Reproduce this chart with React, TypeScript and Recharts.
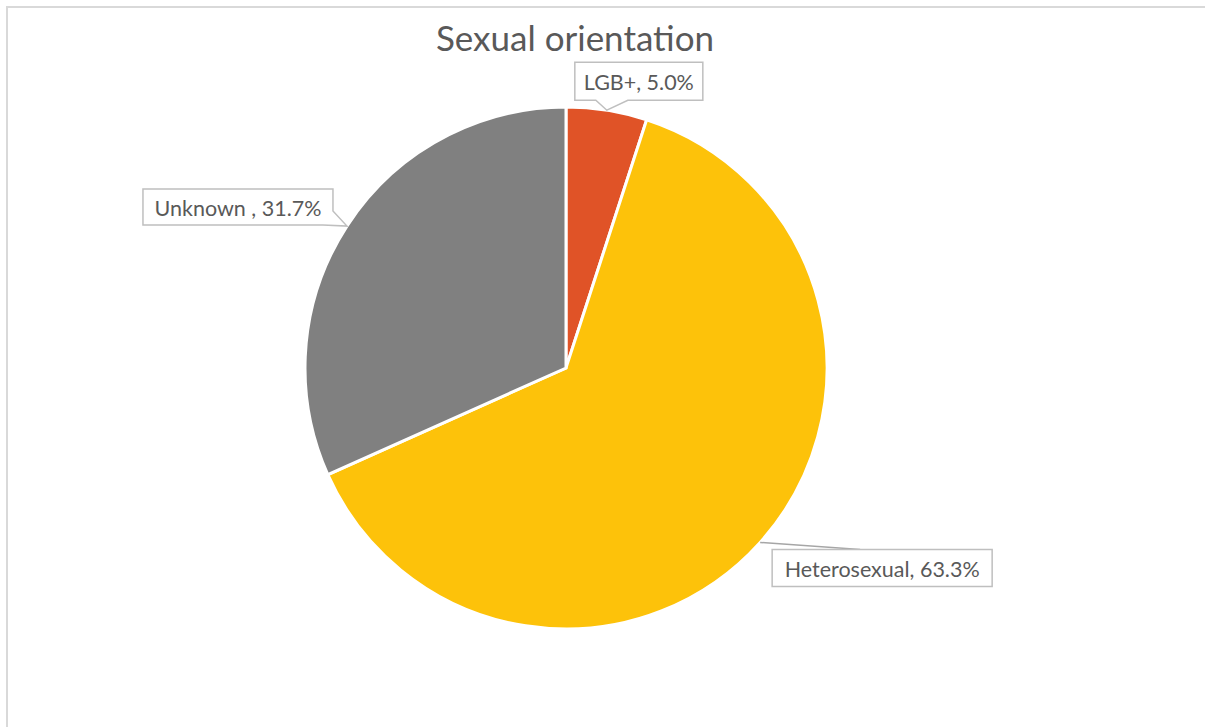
import React from 'react';
import { PieChart, Pie, Cell } from 'recharts';

const categories = ['LGB+', 'Heterosexual', 'Unknown '];
const shares = [5.0, 63.3, 31.7];
const sliceColors = ['#E05327', '#FDC20A', '#808080'];

const data = categories.map((name, i) => ({ name, value: shares[i] }));

const RADIAN = Math.PI / 180;
const FONT = 'Lato, "Open Sans", sans-serif';

// callout layout per slice (box offset relative to slice edge point)
const callouts: Record<number, any> = {
  0: { dx: -32, dy: -48, w: 128, h: 38, kind: 'bottom', p1: 21, p2: 53 },
  1: { dx: 12, dy: 7, w: 220, h: 37, kind: 'line', lx: 88 },
  2: { dx: -204, dy: -37, w: 190, h: 36, kind: 'right', py: 22, px: 180 },
};

const renderLabel = (props: any) => {
  const { cx, cy, midAngle, outerRadius, index, name, value } = props;
  const tx = cx + outerRadius * Math.cos(-midAngle * RADIAN);
  const ty = cy + outerRadius * Math.sin(-midAngle * RADIAN);
  const c = callouts[index];
  const L = tx + c.dx;
  const T = ty + c.dy;
  const R = L + c.w;
  const B = T + c.h;
  let d = '';
  let extra = null;
  if (c.kind === 'bottom') {
    d = `M${L},${T} H${R} V${B} H${L + c.p2} L${tx},${ty} L${L + c.p1},${B} H${L} Z`;
  } else if (c.kind === 'right') {
    d = `M${L},${T} H${R} V${T + c.py} L${tx},${ty} L${L + c.px},${B} H${L} Z`;
  } else {
    d = `M${L},${T} H${R} V${B} H${L} Z`;
    extra = (
      <line x1={tx} y1={ty} x2={L + c.lx} y2={T} stroke="#A6A6A6" strokeWidth={1.5} />
    );
  }
  return (
    <g key={`lbl-${index}`}>
      {extra}
      <path d={d} fill="#FFFFFF" stroke="#BFBFBF" strokeWidth={1.5} />
      <text
        x={(L + R) / 2}
        y={(T + B) / 2 + 1}
        textAnchor="middle"
        dominantBaseline="central"
        fill="#595959"
        fontFamily={FONT}
        fontSize={21.5}
      >
        {`${name}, ${Number(value).toFixed(1)}%`}
      </text>
    </g>
  );
};

export default function App() {
  return (
    <div
      style={{
        position: 'fixed',
        left: 0,
        top: 0,
        width: 1205,
        height: 727,
        overflow: 'hidden',
        background: '#FFFFFF',
      }}
    >
      <style>{`html, body { margin: 0; overflow: hidden; }`}</style>
      <div
        style={{
          position: 'absolute',
          left: 6,
          top: 6,
          width: 1400,
          height: 900,
          borderLeft: '2px solid #D9D9D9',
          borderTop: '2px solid #D9D9D9',
        }}
      />
      <div
        style={{
          position: 'absolute',
          left: 0,
          top: 13,
          width: 1150,
          textAlign: 'center',
          fontFamily: FONT,
          fontSize: 35,
          color: '#595959',
          lineHeight: '48px',
        }}
      >
        Sexual orientation
      </div>
      <div style={{ position: 'absolute', left: 0, top: 0 }}>
        <PieChart width={1205} height={727} margin={{ top: 0, right: 0, bottom: 0, left: 0 }}>
          <Pie
            data={data}
            dataKey="value"
            nameKey="name"
            cx={566}
            cy={368}
            outerRadius={261}
            startAngle={90}
            endAngle={-270}
            stroke="#FFFFFF"
            strokeWidth={3}
            label={renderLabel}
            labelLine={false}
            isAnimationActive={false}
          >
            {data.map((d, i) => (
              <Cell key={d.name} fill={sliceColors[i]} />
            ))}
          </Pie>
        </PieChart>
      </div>
    </div>
  );
}
